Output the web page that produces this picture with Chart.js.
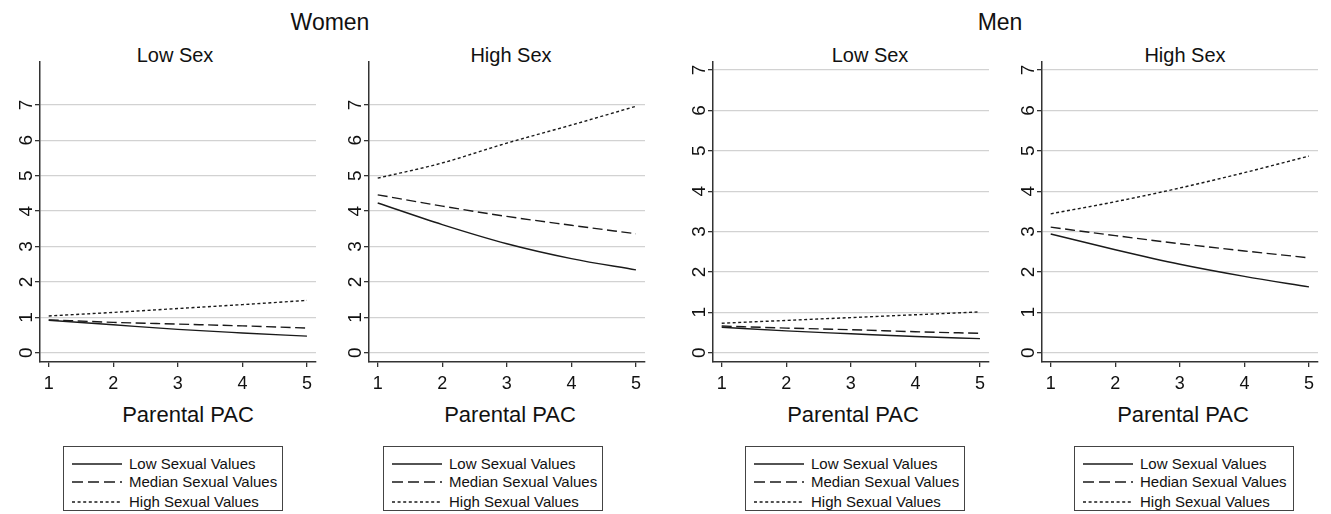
<!DOCTYPE html>
<html><head><meta charset="utf-8">
<script src="https://cdn.jsdelivr.net/npm/chart.js@4.4.0/dist/chart.umd.min.js"></script>
<style>
body{margin:0;background:#fff;width:1331px;height:514px;overflow:hidden;position:relative;font-family:'Liberation Sans',Arial,Helvetica,sans-serif;color:#111}
.t{position:absolute;white-space:nowrap;transform:translate(-50%,-50%);line-height:1}
.main{font-size:23px}
.sub{font-size:20px}
.xl{font-size:22px}
.cv{position:absolute}
.leg{position:absolute;border:1px solid #444;box-sizing:border-box;width:220px;height:65px;top:446px;font-size:15px}
.row{position:absolute;left:8px;height:19px;display:flex;align-items:center;white-space:nowrap}
.row svg{margin-right:7px}
</style></head><body>
<script>
// ---- data ----
const xValues = [1, 2, 3, 4, 5];
const xTickLabels = ['1', '2', '3', '4', '5'];
const yTickValues = [0, 1, 2, 3, 4, 5, 6, 7];
const groupTitles = ['Women', 'Men'];
const panelTitles = ['Low Sex', 'High Sex', 'Low Sex', 'High Sex'];
const xAxisTitle = 'Parental PAC';
const seriesNames = ['Low Sexual Values', 'Median Sexual Values', 'High Sexual Values'];
const seriesNamesMenHigh = ['Low Sexual Values', 'Hedian Sexual Values', 'High Sexual Values'];

const womenLowSexLow    = [0.92, 0.79, 0.66, 0.56, 0.47];
const womenLowSexMedian = [0.93, 0.86, 0.81, 0.76, 0.70];
const womenLowSexHigh   = [1.04, 1.14, 1.25, 1.36, 1.48];
const womenHighSexLow    = [4.23, 3.62, 3.08, 2.66, 2.34];
const womenHighSexMedian = [4.46, 4.14, 3.85, 3.60, 3.36];
const womenHighSexHigh   = [4.93, 5.36, 5.92, 6.43, 6.96];
const menLowSexLow    = [0.63, 0.54, 0.47, 0.40, 0.35];
const menLowSexMedian = [0.66, 0.61, 0.57, 0.52, 0.48];
const menLowSexHigh   = [0.73, 0.80, 0.87, 0.94, 1.01];
const menHighSexLow    = [2.94, 2.55, 2.19, 1.89, 1.63];
const menHighSexMedian = [3.11, 2.90, 2.70, 2.52, 2.35];
const menHighSexHigh   = [3.44, 3.74, 4.08, 4.46, 4.87];

// ---- layout ----
const FAMILY = "'Liberation Sans', Arial, Helvetica, sans-serif";
const AXIS_W = 40, PLOT_W = 276, PLOT_H = 300, PAD_T = 5, PAD_R = 6, XAXIS_H = 34;
const PLOT_TOP = 62;
const panels = [
  {series:[womenLowSexLow, womenLowSexMedian, womenLowSexHigh], yMin:-0.26, yMax:8.21, left:40, titleX:175, xTitleX:188, legLeft:63, names:seriesNames},
  {series:[womenHighSexLow, womenHighSexMedian, womenHighSexHigh], yMin:-0.26, yMax:8.21, left:369, titleX:511, xTitleX:510, legLeft:383, names:seriesNames},
  {series:[menLowSexLow, menLowSexMedian, menLowSexHigh], yMin:-0.23, yMax:7.2, left:713, titleX:870, xTitleX:853, legLeft:745, names:seriesNames},
  {series:[menHighSexLow, menHighSexMedian, menHighSexHigh], yMin:-0.23, yMax:7.2, left:1042, titleX:1185, xTitleX:1183, legLeft:1074, names:seriesNamesMenHigh}
];
const dashes = [[], [10, 4.5], [3, 2.5]];
const legendDashes = ['', '11 5', '3 2.6'];
const LINE = '#1a1a1a';

function addText(txt, cls, x, y) {
  const d = document.createElement('div');
  d.className = 't ' + cls; d.textContent = txt;
  d.style.left = x + 'px'; d.style.top = y + 'px';
  document.body.appendChild(d);
}
addText(groupTitles[0], 'main', 330, 22);
addText(groupTitles[1], 'main', 1000, 22);

panels.forEach((p, idx) => {
  addText(panelTitles[idx], 'sub', p.titleX, 55);
  addText(xAxisTitle, 'xl', p.xTitleX, 415);

  const cv = document.createElement('canvas');
  const W = AXIS_W + PLOT_W + PAD_R, H = PAD_T + PLOT_H + XAXIS_H;
  cv.width = W; cv.height = H; cv.className = 'cv';
  cv.style.width = W + 'px'; cv.style.height = H + 'px';
  cv.style.left = (p.left - AXIS_W) + 'px'; cv.style.top = (PLOT_TOP - PAD_T) + 'px';
  document.body.appendChild(cv);

  new Chart(cv, {
    type: 'line',
    data: {
      datasets: p.series.map((arr, i) => ({
        label: p.names[i],
        data: xValues.map((x, j) => ({x: x, y: arr[j]})),
        borderColor: LINE, borderWidth: 1.4, borderDash: dashes[i],
        pointRadius: 0, fill: false, cubicInterpolationMode: 'monotone'
      }))
    },
    options: {
      responsive: false, animation: false, devicePixelRatio: 1,
      layout: {padding: {top: PAD_T, right: PAD_R, left: 0, bottom: 0}},
      plugins: {legend: {display: false}, tooltip: {enabled: false}},
      scales: {
        x: {
          type: 'linear', min: 0.865, max: 5.14,
          afterBuildTicks: s => { s.ticks = xValues.map(v => ({value: v})); },
          afterFit: s => { s.height = XAXIS_H; s.paddingLeft = 0; s.paddingRight = 0; },
          border: {display: true, color: '#333', width: 1.5},
          grid: {drawOnChartArea: false, drawTicks: true, tickLength: 5, tickColor: '#333', lineWidth: 1.3},
          ticks: {minRotation: 0, maxRotation: 0, autoSkip: false, padding: 6, color: '#111',
                  font: {family: FAMILY, size: 18},
                  callback: v => xTickLabels[xValues.indexOf(v)]}
        },
        y: {
          type: 'linear', min: p.yMin, max: p.yMax,
          afterBuildTicks: s => { s.ticks = yTickValues.map(v => ({value: v})); },
          afterFit: s => { s.width = AXIS_W; s.paddingTop = 0; s.paddingBottom = 0; },
          border: {display: true, color: '#333', width: 1.5},
          grid: {color: '#d2d2d2', lineWidth: 1.3, drawTicks: true, tickLength: 5, tickColor: '#333', tickWidth: 1.3},
          ticks: {minRotation: 90, maxRotation: 90, crossAlign: 'center', padding: 3, color: '#111', autoSkip: false,
                  font: {family: FAMILY, size: 19}, callback: v => String(v)}
        }
      }
    }
  });

  const leg = document.createElement('div');
  leg.className = 'leg'; leg.style.left = p.legLeft + 'px';
  const rowTops = [7, 25, 45];
  p.names.forEach((n, i) => {
    const r = document.createElement('div');
    r.className = 'row'; r.style.top = rowTops[i] + 'px';
    r.innerHTML = '<svg width="50" height="4"><line x1="0" y1="2" x2="50" y2="2" stroke="' + LINE +
      '" stroke-width="1.3"' + (legendDashes[i] ? ' stroke-dasharray="' + legendDashes[i] + '"' : '') + '/></svg>';
    const s = document.createElement('span'); s.textContent = n; r.appendChild(s);
    leg.appendChild(r);
  });
  document.body.appendChild(leg);
});
</script>
</body></html>
